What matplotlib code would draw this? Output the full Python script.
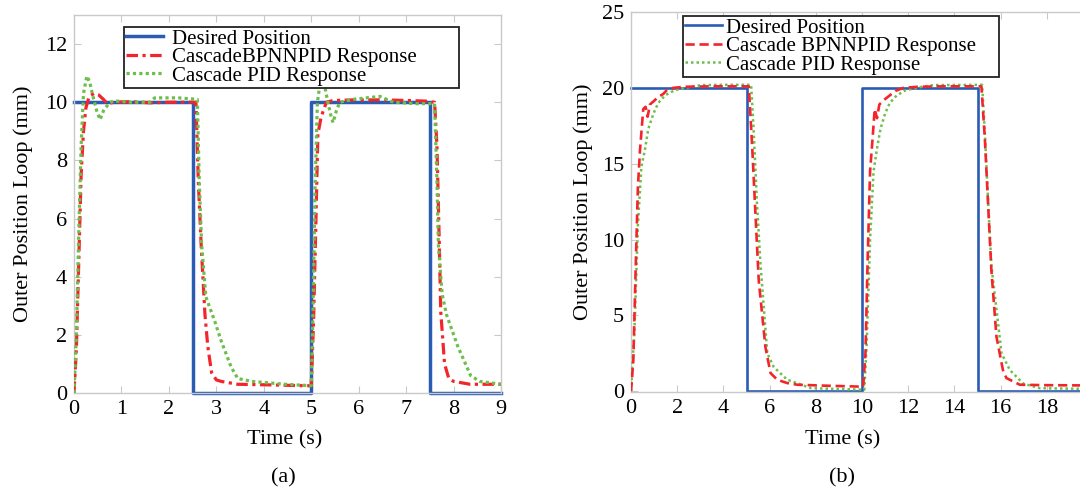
import matplotlib
matplotlib.use("Agg")
import matplotlib.pyplot as plt

# ---------------- data: panel (a), 10 mm square wave ----------------
a_desired_t = [0, 2.5, 2.5, 5, 5, 7.5, 7.5, 9]
a_desired_y = [10, 10, 0, 0, 10, 10, 0, 0]

a_bpnn_t = [0, 0.05, 0.1, 0.15, 0.2, 0.25, 0.32, 0.42, 0.52, 0.62, 0.7, 0.85, 1.2, 1.6, 2.0, 2.3, 2.57,
            2.62, 2.68, 2.76, 2.82, 2.9, 3.0, 3.1, 3.45, 4.1, 4.86, 5.0,
            5.05, 5.1, 5.14, 5.21, 5.32, 5.46, 5.9, 6.5, 7.0, 7.4, 7.6,
            7.65, 7.7, 7.73, 7.81, 7.9, 8.0, 8.35, 8.7, 9.0]
a_bpnn_y = [0, 1.5, 4.5, 7.5, 9.0, 9.8, 10.2, 10.3, 10.25, 10.1, 9.95, 10.0, 10.02, 9.98, 10.0, 10.0, 10.0,
            7.3, 5.1, 2.7, 1.6, 0.7, 0.45, 0.4, 0.3, 0.28, 0.25, 0.25,
            2.5, 6.0, 8.9, 9.5, 10.0, 10.06, 10.08, 10.08, 10.06, 10.04, 10.0,
            8.5, 5.1, 2.8, 1.0, 0.5, 0.4, 0.3, 0.3, 0.3]

a_pid_t = [0, 0.05, 0.1, 0.15, 0.2, 0.27, 0.33, 0.4, 0.48, 0.55, 0.62, 0.73, 0.83, 1.2, 1.6, 1.7, 2.2, 2.6,
           2.64, 2.69, 2.78, 2.96, 3.1, 3.31, 3.45, 3.74, 4.45, 5.0,
           5.04, 5.08, 5.13, 5.2, 5.28, 5.35, 5.42, 5.46, 5.53, 5.6, 5.88, 6.45, 6.73, 7.2, 7.6,
           7.65, 7.68, 7.76, 7.85, 8.09, 8.36, 8.55, 9.0]
a_pid_y = [0, 2.0, 5.5, 8.5, 10.3, 10.9, 10.7, 10.2, 9.7, 9.4, 9.7, 9.95, 10.05, 10.0, 10.0, 10.15, 10.15, 10.1,
           7.3, 5.1, 3.3, 2.5, 1.8, 0.9, 0.5, 0.4, 0.3, 0.25,
           3.0, 7.0, 10.0, 10.8, 10.6, 10.0, 9.5, 9.3, 9.7, 10.0, 10.1, 10.2, 10.0, 9.95, 9.95,
           7.3, 5.1, 3.4, 2.7, 1.6, 0.6, 0.4, 0.3]

# ---------------- data: panel (b), 20 mm square wave ----------------
b_desired_t = [0, 5, 5, 10, 10, 15, 15, 20]
b_desired_y = [20, 20, 0, 0, 20, 20, 0, 0]

b_bpnn_t = [0, 0.1, 0.2, 0.3, 0.39, 0.53, 0.63, 0.72, 0.82, 1.04, 1.18, 1.4, 1.55, 1.83, 2.34, 3.5, 5.1,
            5.25, 5.39, 5.53, 5.82, 6.04, 6.33, 6.76, 7.2, 8.35, 10.05,
            10.15, 10.25, 10.35, 10.45, 10.55, 10.65, 10.75, 10.95, 11.2, 11.45, 11.8, 12.4, 13.5, 15.17,
            15.32, 15.46, 15.6, 15.82, 16.1, 16.25, 16.54, 16.83, 18.0, 20.0]
b_bpnn_y = [0, 2.0, 8.0, 13.5, 15.9, 18.6, 18.75, 18.1, 18.9, 19.2, 19.4, 19.6, 19.85, 20.0, 20.07, 20.1, 20.1,
            16.0, 11.6, 7.3, 2.9, 1.2, 0.76, 0.54, 0.43, 0.37, 0.3,
            2.5, 9.0, 14.5, 16.5, 18.6, 18.0, 18.9, 19.2, 19.5, 19.8, 20.0, 20.07, 20.1, 20.1,
            16.6, 12.3, 8.0, 3.6, 1.4, 0.87, 0.65, 0.43, 0.4, 0.38]

b_pid_t = [0, 0.15, 0.3, 0.45, 0.6, 0.75, 0.97, 1.18, 1.47, 1.9, 2.6, 3.06, 4.0, 5.2,
           5.3, 5.45, 5.6, 5.9, 6.18, 6.76, 7.8, 10.1,
           10.2, 10.35, 10.5, 10.65, 10.8, 11.0, 11.2, 11.5, 11.9, 12.6, 13.1, 15.2,
           15.32, 15.46, 15.6, 16.04, 16.4, 16.98, 17.7, 20.0]
b_pid_y = [0, 4.0, 11.0, 14.8, 15.9, 17.3, 18.3, 19.0, 19.5, 19.85, 20.07, 20.18, 20.2, 20.2,
           17.5, 12.5, 8.5, 2.5, 1.6, 0.76, 0.2, 0.1,
           3.0, 10.0, 14.5, 16.0, 17.3, 18.3, 19.0, 19.5, 19.85, 20.07, 20.18, 20.2,
           17.0, 12.5, 8.3, 2.5, 1.4, 0.5, 0.2, 0.15]

a_yticks = [0, 2, 4, 6, 8, 10, 12]
a_xticks = [0, 1, 2, 3, 4, 5, 6, 7, 8, 9]
b_yticks = [0, 5, 10, 15, 20, 25]
b_xticks = [0, 2, 4, 6, 8, 10, 12, 14, 16, 18, 20]
b_xticklabels = ["0", "2", "4", "6", "8", "10", "12", "14", "16", "18", ""]

labels_a = ["Desired Position", "CascadeBPNNPID Response", "Cascade PID Response"]
labels_b = ["Desired Position", "Cascade BPNNPID Response", "Cascade PID Response"]

BLUE = "#2b5cb4"
RED = "#f4252a"
GREEN = "#6cbf4a"
GRID = "#c9c9c9"
FS = 16

plt.rcParams["font.family"] = ["Liberation Serif", "DejaVu Serif"]

fig = plt.figure(figsize=(10.8, 4.94), dpi=100)
W, H = 1080.0, 494.0


def px_axes(left, top, right, bottom):
    return fig.add_axes([left / W, 1 - bottom / H, (right - left) / W, (bottom - top) / H])


def style(ax):
    for s in ax.spines.values():
        s.set_color(GRID)
        s.set_linewidth(1.0)
    ax.tick_params(direction="in", length=5, width=0.8, color=GRID,
                   top=True, right=True, labelsize=FS, pad=5)


def add_legend(ax, left, top, right, bottom, textpad):
    # legend box placed in pixel coords, stretched to the reference width
    leg = ax.legend(loc="upper left",
                    bbox_to_anchor=(left / W, 1 - bottom / H, (right - left) / W, (bottom - top) / H),
                    bbox_transform=fig.transFigure, mode="expand", fontsize=15, frameon=True,
                    fancybox=False, framealpha=1, edgecolor="#222222",
                    labelspacing=-0.05, handlelength=1.75, handletextpad=textpad,
                    borderpad=0.1, borderaxespad=0)
    leg.get_frame().set_linewidth(1.3)
    return leg


# ---- panel (a) ----
ax1 = px_axes(74, 15, 501, 393)
ax1.plot(a_desired_t, a_desired_y, color=BLUE, lw=2.5, label=labels_a[0], zorder=2, clip_on=False)
ax1.plot(a_bpnn_t, a_bpnn_y, color=RED, lw=2.3, linestyle=(0, (3.6, 1.4, 1.0, 1.4)),
         label=labels_a[1], zorder=3)
ax1.plot(a_pid_t, a_pid_y, color=GREEN, lw=2.3, linestyle=(0, (1.0, 1.0)),
         label=labels_a[2], zorder=4)
ax1.set_xlim(0, 9)
ax1.set_ylim(0, 13)
ax1.set_xticks(a_xticks)
ax1.set_yticks(a_yticks)
style(ax1)
add_legend(ax1, 124, 27, 459, 85, 0.45)

# ---- panel (b) ----
ax2 = px_axes(631, 12, 1093, 392)
ax2.plot(b_desired_t, b_desired_y, color=BLUE, lw=1.9, label=labels_b[0], zorder=2, clip_on=False)
ax2.plot(b_bpnn_t, b_bpnn_y, color=RED, lw=1.9, linestyle=(0, (3.5, 1.8)),
         label=labels_b[1], zorder=4)
ax2.plot(b_pid_t, b_pid_y, color=GREEN, lw=1.8, linestyle=(0, (1.0, 1.2)),
         label=labels_b[2], zorder=3)
ax2.set_xlim(0, 20)
ax2.set_ylim(-0.05, 24.95)
ax2.set_xticks(b_xticks)
ax2.set_xticklabels(b_xticklabels)
ax2.set_yticks(b_yticks)
style(ax2)
add_legend(ax2, 683, 16, 999, 80, 0.2)

# axis titles and panel tags
fig.text(23 / W, 1 - 204 / H, "Outer Position Loop (mm)", rotation=90,
         ha="center", va="center", fontsize=FS)
fig.text(583 / W, 1 - 202 / H, "Outer Position Loop (mm)", rotation=90,
         ha="center", va="center", fontsize=FS)
fig.text(285 / W, 1 - 440 / H, "Time (s)", ha="center", va="center", fontsize=FS)
fig.text(843 / W, 1 - 440 / H, "Time (s)", ha="center", va="center", fontsize=FS)
fig.text(283 / W, 1 - 478 / H, "(a)", ha="center", va="center", fontsize=FS)
fig.text(842 / W, 1 - 478 / H, "(b)", ha="center", va="center", fontsize=FS)

fig.savefig("out.png", dpi=100)
